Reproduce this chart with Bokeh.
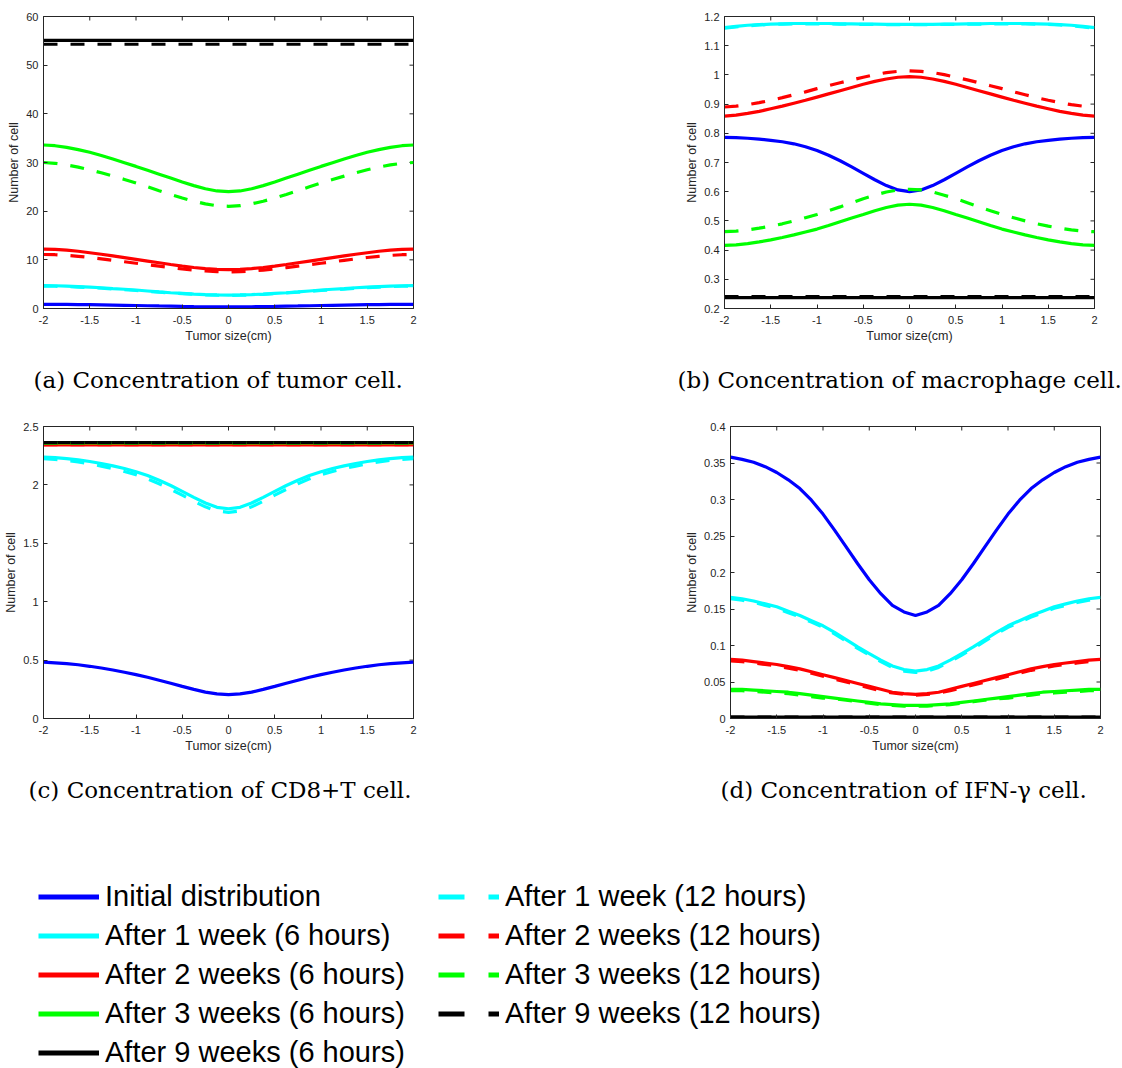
from bokeh.plotting import figure
from bokeh.models import (Range1d, FixedTicker, NumeralTickFormatter,
                          Title, Legend, LegendItem)
from bokeh.layouts import column, row
from bokeh.embed import file_html
from bokeh.resources import INLINE

# ---------------- data ----------------
x_cm = [-2, -1.875, -1.75, -1.625, -1.5, -1.375, -1.25, -1.125, -1, -0.875, -0.75,
        -0.625, -0.5, -0.375, -0.25, -0.125, 0, 0.125, 0.25, 0.375, 0.5, 0.625,
        0.75, 0.875, 1, 1.125, 1.25, 1.375, 1.5, 1.625, 1.75, 1.875, 2]

x_ticks = [-2, -1.5, -1, -0.5, 0, 0.5, 1, 1.5, 2]

# (a) tumor cell
a_init = [0.85, 0.845, 0.83, 0.81, 0.78, 0.74, 0.70, 0.66, 0.62, 0.57, 0.52, 0.475, 0.43,
          0.39, 0.36, 0.34, 0.33, 0.34, 0.36, 0.39, 0.43, 0.475, 0.52, 0.57, 0.62, 0.66,
          0.70, 0.74, 0.78, 0.81, 0.83, 0.845, 0.85]
a_w1_6 = [4.7, 4.67, 4.6, 4.51, 4.4, 4.26, 4.1, 3.95, 3.8, 3.6, 3.4, 3.24, 3.1, 2.96, 2.85,
          2.78, 2.75, 2.78, 2.85, 2.96, 3.1, 3.24, 3.4, 3.6, 3.8, 3.95, 4.1, 4.26, 4.4,
          4.51, 4.6, 4.67, 4.7]
a_w2_6 = [12.2, 12.14, 12.0, 11.76, 11.46, 11.14, 10.8, 10.45, 10.1, 9.75, 9.4, 9.04, 8.7,
          8.42, 8.2, 8.05, 8.0, 8.05, 8.2, 8.42, 8.7, 9.04, 9.4, 9.75, 10.1, 10.45, 10.8,
          11.14, 11.46, 11.76, 12.0, 12.14, 12.2]
a_w3_6 = [33.6, 33.45, 33.1, 32.65, 32.1, 31.43, 30.7, 29.95, 29.2, 28.4, 27.6, 26.8, 26.0,
          25.25, 24.6, 24.15, 24.0, 24.15, 24.6, 25.25, 26.0, 26.8, 27.6, 28.4, 29.2, 29.95,
          30.7, 31.43, 32.1, 32.65, 33.1, 33.45, 33.6]
a_w9_6 = [55.1, 55.1, 55.1, 55.1, 55.1, 55.1, 55.1, 55.1, 55.1, 55.1, 55.1, 55.1, 55.1,
          55.1, 55.1, 55.1, 55.1, 55.1, 55.1, 55.1, 55.1, 55.1, 55.1, 55.1, 55.1, 55.1,
          55.1, 55.1, 55.1, 55.1, 55.1, 55.1, 55.1]
a_w1_12 = [4.6, 4.57, 4.5, 4.41, 4.3, 4.16, 4.0, 3.85, 3.7, 3.52, 3.35, 3.19, 3.05, 2.92,
           2.8, 2.73, 2.7, 2.73, 2.8, 2.92, 3.05, 3.19, 3.35, 3.52, 3.7, 3.85, 4.0, 4.16,
           4.3, 4.41, 4.5, 4.57, 4.6]
a_w2_12 = [11.1, 11.05, 10.92, 10.72, 10.48, 10.2, 9.9, 9.6, 9.3, 9.0, 8.7, 8.4, 8.12, 7.88,
           7.7, 7.56, 7.5, 7.56, 7.7, 7.88, 8.12, 8.4, 8.7, 9.0, 9.3, 9.6, 9.9, 10.2, 10.48,
           10.72, 10.92, 11.05, 11.1]
a_w3_12 = [30.0, 29.84, 29.5, 29.05, 28.5, 27.88, 27.2, 26.52, 25.8, 25.0, 24.2, 23.44, 22.7,
           22.05, 21.5, 21.12, 21.0, 21.12, 21.5, 22.05, 22.7, 23.44, 24.2, 25.0, 25.8, 26.52,
           27.2, 27.88, 28.5, 29.05, 29.5, 29.84, 30.0]
a_w9_12 = [54.3, 54.3, 54.3, 54.3, 54.3, 54.3, 54.3, 54.3, 54.3, 54.3, 54.3, 54.3, 54.3,
           54.3, 54.3, 54.3, 54.3, 54.3, 54.3, 54.3, 54.3, 54.3, 54.3, 54.3, 54.3, 54.3,
           54.3, 54.3, 54.3, 54.3, 54.3, 54.3, 54.3]
a_yticks = [0, 10, 20, 30, 40, 50, 60]

# (b) macrophage cell
b_init = [0.786, 0.785, 0.783, 0.780, 0.776, 0.771, 0.764, 0.754, 0.741, 0.725, 0.706, 0.685,
          0.663, 0.641, 0.621, 0.606, 0.600, 0.606, 0.621, 0.641, 0.663, 0.685, 0.706, 0.725,
          0.741, 0.754, 0.764, 0.771, 0.776, 0.780, 0.783, 0.785, 0.786]
b_w1_6 = [1.162, 1.166, 1.170, 1.172, 1.174, 1.175, 1.176, 1.176, 1.176, 1.176, 1.175, 1.175,
          1.174, 1.174, 1.173, 1.173, 1.173, 1.173, 1.173, 1.174, 1.174, 1.175, 1.175, 1.176,
          1.176, 1.176, 1.176, 1.175, 1.174, 1.172, 1.170, 1.166, 1.162]
b_w2_6 = [0.859, 0.862, 0.868, 0.875, 0.884, 0.893, 0.903, 0.913, 0.924, 0.935, 0.946, 0.957,
          0.968, 0.978, 0.986, 0.992, 0.994, 0.992, 0.986, 0.978, 0.968, 0.957, 0.946, 0.935,
          0.924, 0.913, 0.903, 0.893, 0.884, 0.875, 0.868, 0.862, 0.859]
b_w3_6 = [0.416, 0.418, 0.422, 0.428, 0.435, 0.443, 0.452, 0.462, 0.472, 0.484, 0.497, 0.510,
          0.522, 0.535, 0.546, 0.554, 0.557, 0.554, 0.546, 0.535, 0.522, 0.510, 0.497, 0.484,
          0.472, 0.462, 0.452, 0.443, 0.435, 0.428, 0.422, 0.418, 0.416]
b_w9_6 = [0.237, 0.237, 0.237, 0.237, 0.237, 0.237, 0.237, 0.237, 0.237, 0.237, 0.237, 0.237,
          0.237, 0.237, 0.237, 0.237, 0.237, 0.237, 0.237, 0.237, 0.237, 0.237, 0.237, 0.237,
          0.237, 0.237, 0.237, 0.237, 0.237, 0.237, 0.237, 0.237, 0.237]
b_w1_12 = [1.160, 1.164, 1.168, 1.171, 1.173, 1.174, 1.175, 1.175, 1.175, 1.175, 1.174, 1.174,
           1.173, 1.173, 1.172, 1.172, 1.172, 1.172, 1.172, 1.173, 1.173, 1.174, 1.174, 1.175,
           1.175, 1.175, 1.175, 1.174, 1.173, 1.171, 1.168, 1.164, 1.160]
b_w2_12 = [0.890, 0.893, 0.898, 0.905, 0.913, 0.922, 0.932, 0.942, 0.953, 0.963, 0.973, 0.983,
           0.992, 1.001, 1.008, 1.012, 1.014, 1.012, 1.008, 1.001, 0.992, 0.983, 0.973, 0.963,
           0.953, 0.942, 0.932, 0.922, 0.913, 0.905, 0.898, 0.893, 0.890]
b_w3_12 = [0.463, 0.465, 0.469, 0.475, 0.482, 0.490, 0.500, 0.511, 0.522, 0.535, 0.548, 0.562,
           0.576, 0.588, 0.599, 0.606, 0.608, 0.606, 0.599, 0.588, 0.576, 0.562, 0.548, 0.535,
           0.522, 0.511, 0.500, 0.490, 0.482, 0.475, 0.469, 0.465, 0.463]
b_w9_12 = [0.241, 0.241, 0.241, 0.241, 0.241, 0.241, 0.241, 0.241, 0.241, 0.241, 0.241, 0.241,
           0.241, 0.241, 0.241, 0.241, 0.241, 0.241, 0.241, 0.241, 0.241, 0.241, 0.241, 0.241,
           0.241, 0.241, 0.241, 0.241, 0.241, 0.241, 0.241, 0.241, 0.241]
b_yticks = [0.2, 0.3, 0.4, 0.5, 0.6, 0.7, 0.8, 0.9, 1.0, 1.1, 1.2]

# (c) CD8+T cell
c_init = [0.482, 0.477, 0.470, 0.460, 0.447, 0.432, 0.415, 0.396, 0.376, 0.353, 0.328, 0.302,
          0.275, 0.249, 0.226, 0.211, 0.205, 0.211, 0.226, 0.249, 0.275, 0.302, 0.328, 0.353,
          0.376, 0.396, 0.415, 0.432, 0.447, 0.460, 0.470, 0.477, 0.482]
c_w1_6 = [2.238, 2.233, 2.225, 2.214, 2.200, 2.183, 2.163, 2.140, 2.113, 2.080, 2.040, 1.995,
          1.945, 1.893, 1.845, 1.808, 1.796, 1.808, 1.845, 1.893, 1.945, 1.995, 2.040, 2.080,
          2.113, 2.140, 2.163, 2.183, 2.200, 2.214, 2.225, 2.233, 2.238]
c_w2_6 = [2.342, 2.342, 2.342, 2.342, 2.342, 2.342, 2.342, 2.342, 2.342, 2.342, 2.342, 2.342,
          2.342, 2.342, 2.342, 2.342, 2.342, 2.342, 2.342, 2.342, 2.342, 2.342, 2.342, 2.342,
          2.342, 2.342, 2.342, 2.342, 2.342, 2.342, 2.342, 2.342, 2.342]
c_w3_6 = [2.360, 2.360, 2.360, 2.360, 2.360, 2.360, 2.360, 2.360, 2.360, 2.360, 2.360, 2.360,
          2.360, 2.360, 2.360, 2.360, 2.360, 2.360, 2.360, 2.360, 2.360, 2.360, 2.360, 2.360,
          2.360, 2.360, 2.360, 2.360, 2.360, 2.360, 2.360, 2.360, 2.360]
c_w9_6 = [2.363, 2.363, 2.363, 2.363, 2.363, 2.363, 2.363, 2.363, 2.363, 2.363, 2.363, 2.363,
          2.363, 2.363, 2.363, 2.363, 2.363, 2.363, 2.363, 2.363, 2.363, 2.363, 2.363, 2.363,
          2.363, 2.363, 2.363, 2.363, 2.363, 2.363, 2.363, 2.363, 2.363]
c_w1_12 = [2.225, 2.219, 2.210, 2.197, 2.180, 2.161, 2.140, 2.115, 2.088, 2.052, 2.010, 1.962,
           1.912, 1.860, 1.812, 1.777, 1.765, 1.777, 1.812, 1.860, 1.912, 1.962, 2.010, 2.052,
           2.088, 2.115, 2.140, 2.161, 2.180, 2.197, 2.210, 2.219, 2.225]
c_w2_12 = [2.344, 2.344, 2.344, 2.344, 2.344, 2.344, 2.344, 2.344, 2.344, 2.344, 2.344, 2.344,
           2.344, 2.344, 2.344, 2.344, 2.344, 2.344, 2.344, 2.344, 2.344, 2.344, 2.344, 2.344,
           2.344, 2.344, 2.344, 2.344, 2.344, 2.344, 2.344, 2.344, 2.344]
c_w3_12 = [2.358, 2.358, 2.358, 2.358, 2.358, 2.358, 2.358, 2.358, 2.358, 2.358, 2.358, 2.358,
           2.358, 2.358, 2.358, 2.358, 2.358, 2.358, 2.358, 2.358, 2.358, 2.358, 2.358, 2.358,
           2.358, 2.358, 2.358, 2.358, 2.358, 2.358, 2.358, 2.358, 2.358]
c_w9_12 = [2.362, 2.362, 2.362, 2.362, 2.362, 2.362, 2.362, 2.362, 2.362, 2.362, 2.362, 2.362,
           2.362, 2.362, 2.362, 2.362, 2.362, 2.362, 2.362, 2.362, 2.362, 2.362, 2.362, 2.362,
           2.362, 2.362, 2.362, 2.362, 2.362, 2.362, 2.362, 2.362, 2.362]
c_yticks = [0, 0.5, 1, 1.5, 2, 2.5]

# (d) IFN-gamma
d_init = [0.358, 0.355, 0.351, 0.345, 0.337, 0.327, 0.315, 0.299, 0.280, 0.258, 0.235, 0.212,
          0.190, 0.171, 0.155, 0.146, 0.141, 0.146, 0.155, 0.171, 0.190, 0.212, 0.235, 0.258,
          0.280, 0.299, 0.315, 0.327, 0.337, 0.345, 0.351, 0.355, 0.358]
d_w1_6 = [0.166, 0.164, 0.161, 0.157, 0.153, 0.147, 0.141, 0.134, 0.127, 0.118, 0.108, 0.098,
          0.089, 0.080, 0.072, 0.067, 0.065, 0.067, 0.072, 0.080, 0.089, 0.098, 0.108, 0.118,
          0.127, 0.134, 0.141, 0.147, 0.153, 0.157, 0.161, 0.164, 0.166]
d_w2_6 = [0.081, 0.080, 0.078, 0.076, 0.074, 0.071, 0.068, 0.064, 0.060, 0.056, 0.052, 0.048,
          0.044, 0.040, 0.036, 0.034, 0.033, 0.034, 0.036, 0.040, 0.044, 0.048, 0.052, 0.056,
          0.060, 0.064, 0.068, 0.071, 0.074, 0.076, 0.078, 0.080, 0.081]
d_w3_6 = [0.040, 0.040, 0.039, 0.038, 0.037, 0.036, 0.034, 0.032, 0.030, 0.028, 0.026, 0.024,
          0.022, 0.020, 0.019, 0.018, 0.018, 0.018, 0.019, 0.020, 0.022, 0.024, 0.026, 0.028,
          0.030, 0.032, 0.034, 0.036, 0.037, 0.038, 0.039, 0.040, 0.040]
d_w9_6 = [0.002, 0.002, 0.002, 0.002, 0.002, 0.002, 0.002, 0.002, 0.002, 0.002, 0.002, 0.002,
          0.002, 0.002, 0.002, 0.002, 0.002, 0.002, 0.002, 0.002, 0.002, 0.002, 0.002, 0.002,
          0.002, 0.002, 0.002, 0.002, 0.002, 0.002, 0.002, 0.002, 0.002]
d_w1_12 = [0.164, 0.162, 0.159, 0.155, 0.151, 0.145, 0.139, 0.132, 0.125, 0.116, 0.106, 0.096,
           0.087, 0.078, 0.070, 0.065, 0.063, 0.065, 0.070, 0.078, 0.087, 0.096, 0.106, 0.116,
           0.125, 0.132, 0.139, 0.145, 0.151, 0.155, 0.159, 0.162, 0.164]
d_w2_12 = [0.079, 0.078, 0.076, 0.074, 0.072, 0.069, 0.066, 0.062, 0.058, 0.054, 0.050, 0.046,
           0.042, 0.038, 0.035, 0.033, 0.032, 0.033, 0.035, 0.038, 0.042, 0.046, 0.050, 0.054,
           0.058, 0.062, 0.066, 0.069, 0.072, 0.074, 0.076, 0.078, 0.079]
d_w3_12 = [0.038, 0.038, 0.037, 0.036, 0.035, 0.034, 0.032, 0.030, 0.028, 0.027, 0.025, 0.023,
           0.021, 0.019, 0.018, 0.017, 0.017, 0.017, 0.018, 0.019, 0.021, 0.023, 0.025, 0.027,
           0.028, 0.030, 0.032, 0.034, 0.035, 0.036, 0.037, 0.038, 0.038]
d_w9_12 = [0.002, 0.002, 0.002, 0.002, 0.002, 0.002, 0.002, 0.002, 0.002, 0.002, 0.002, 0.002,
           0.002, 0.002, 0.002, 0.002, 0.002, 0.002, 0.002, 0.002, 0.002, 0.002, 0.002, 0.002,
           0.002, 0.002, 0.002, 0.002, 0.002, 0.002, 0.002, 0.002, 0.002]
d_yticks = [0, 0.05, 0.1, 0.15, 0.2, 0.25, 0.3, 0.35, 0.4]

captions = ["(a) Concentration of tumor cell.",
            "(b) Concentration of macrophage cell.",
            "(c) Concentration of CD8+T cell.",
            "(d) Concentration of IFN-\u03b3 cell."]

solid_labels = ["Initial distribution", "After 1 week (6 hours)", "After 2 weeks (6 hours)",
                "After 3 weeks (6 hours)", "After 9 weeks (6 hours)"]
dashed_labels = ["After 1 week (12 hours)", "After 2 weeks (12 hours)",
                 "After 3 weeks (12 hours)", "After 9 weeks (12 hours)"]
solid_colors = ["#0000FF", "#00FFFF", "#FF0000", "#00FF00", "#000000"]
dashed_colors = ["#00FFFF", "#FF0000", "#00FF00", "#000000"]

AX = "#262626"
SANS = "Liberation Sans"
FW, FH = 370, 292
TICK_PX = 4


def style_axis(ax, label_standoff):
    ax.major_tick_in = TICK_PX
    ax.major_tick_out = 0
    ax.minor_tick_line_color = None
    ax.axis_line_color = AX
    ax.major_tick_line_color = AX
    ax.major_label_text_color = AX
    ax.major_label_text_font = SANS
    ax.major_label_text_font_size = "11px"
    ax.major_label_standoff = label_standoff
    ax.axis_label_text_font = SANS
    ax.axis_label_text_font_size = "12.5px"
    ax.axis_label_text_font_style = "normal"
    ax.axis_label_text_color = AX
    ax.axis_label_standoff = 2


def panel(solids, dashes, yr, yticks, caption, cap_offset, left_b, top_b, right_b):
    p = figure(frame_width=FW, frame_height=FH,
               x_range=Range1d(-2, 2), y_range=Range1d(yr[0], yr[1]),
               output_backend="svg", toolbar_location=None,
               min_border_left=left_b, min_border_right=right_b,
               min_border_top=top_b, min_border_bottom=100,
               x_axis_label="Tumor size(cm)", y_axis_label="Number of cell")
    p.outline_line_color = AX
    p.outline_line_width = 1
    p.grid.visible = False
    fmt = NumeralTickFormatter(format="0.[00]")
    p.xaxis.ticker = FixedTicker(ticks=x_ticks)
    p.yaxis.ticker = FixedTicker(ticks=yticks)
    p.xaxis.formatter = fmt
    p.yaxis.formatter = fmt
    for ax in p.xaxis:
        style_axis(ax, 7)
    for ax in p.yaxis:
        style_axis(ax, 5)

    # mirrored inward ticks on the top and right edges of the box
    dy = TICK_PX * (yr[1] - yr[0]) / FH
    dx = TICK_PX * 4.0 / FW
    nx, ny = len(x_ticks), len(yticks)
    p.segment(x0=x_ticks, y0=[yr[1]] * nx, x1=x_ticks, y1=[yr[1] - dy] * nx,
              line_color=AX, line_width=1)
    p.segment(x0=[2] * ny, y0=yticks, x1=[2 - dx] * ny, y1=yticks,
              line_color=AX, line_width=1)

    for ys, c in zip(solids, solid_colors):
        p.line(x_cm, ys, line_color=c, line_width=3.2)
    for ys, c in zip(dashes, dashed_colors):
        p.line(x_cm, ys, line_color=c, line_width=3.2, line_dash="14 13")

    t = Title(text=caption, align="left", offset=cap_offset, standoff=38,
              text_font="DejaVu Serif", text_font_size="23px",
              text_font_style="normal", text_color="black")
    p.add_layout(t, "below")
    return p


pa = panel([a_init, a_w1_6, a_w2_6, a_w3_6, a_w9_6], [a_w1_12, a_w2_12, a_w3_12, a_w9_12],
           (0, 60), a_yticks, captions[0], -10, 43, 16, 10)
pb = panel([b_init, b_w1_6, b_w2_6, b_w3_6, b_w9_6], [b_w1_12, b_w2_12, b_w3_12, b_w9_12],
           (0.2, 1.2), b_yticks, captions[1], -47, 301, 16, 28)
pc = panel([c_init, c_w1_6, c_w2_6, c_w3_6, c_w9_6], [c_w1_12, c_w2_12, c_w3_12, c_w9_12],
           (0, 2.5), c_yticks, captions[2], -15, 43, 15, 10)
pd = panel([d_init, d_w1_6, d_w2_6, d_w3_6, d_w9_6], [d_w1_12, d_w2_12, d_w3_12, d_w9_12],
           (0, 0.4), d_yticks, captions[3], -10, 307, 15, 21)

# ---------------- legend strip ----------------
pl = figure(width=1121, height=253, x_range=Range1d(10, 11), y_range=Range1d(10, 11),
            output_backend="svg", toolbar_location=None, min_border=0,
            x_axis_location=None, y_axis_location=None)
pl.outline_line_color = None
pl.grid.visible = False

items1 = []
for lab, c, ys in zip(solid_labels, solid_colors, [a_init, a_w1_6, a_w2_6, a_w3_6, a_w9_6]):
    r = pl.line(x=x_cm, y=ys, line_color=c, line_width=5)
    items1.append(LegendItem(label=lab, renderers=[r]))
items2 = []
for lab, c, ys in zip(dashed_labels, dashed_colors, [a_w1_12, a_w2_12, a_w3_12, a_w9_12]):
    r = pl.line(x=x_cm, y=ys, line_color=c, line_width=5, line_dash="26 24")
    items2.append(LegendItem(label=lab, renderers=[r]))


def make_legend(items, loc):
    return Legend(items=items, location=loc, padding=0, margin=0, spacing=6,
                  glyph_width=61, glyph_height=33, label_height=33, label_standoff=6,
                  label_text_font=SANS, label_text_font_size="29px", label_text_color="black",
                  border_line_color=None, background_fill_alpha=0)


pl.add_layout(make_legend(items1, (38, 5)))
pl.add_layout(make_legend(items2, (438, 44)))

layout = column(row(pa, pb), row(pc, pd), pl)
open("out.html", "w").write(file_html(layout, INLINE))
